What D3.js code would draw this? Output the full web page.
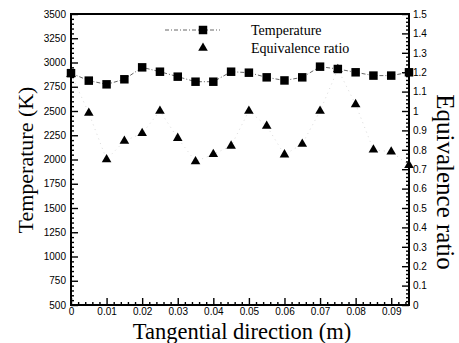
<!DOCTYPE html>
<html>
<head>
<meta charset="utf-8">
<script src="https://cdn.jsdelivr.net/npm/d3@7"></script>
<style>
  body { margin: 0; background: #fff; }
  .tick text { font-family: "Liberation Sans", Arial, sans-serif; font-size: 10px; fill: #000; }
  .title { font-family: "Liberation Serif", "Times New Roman", serif; fill: #000; }
</style>
</head>
<body>
<div class="chart"></div>
<script>
// data
const positions = [0, 0.005, 0.01, 0.015, 0.02, 0.025, 0.03, 0.035, 0.04, 0.045,
  0.05, 0.055, 0.06, 0.065, 0.07, 0.075, 0.08, 0.085, 0.09, 0.095];
const temperature = [2890, 2813, 2775, 2827, 2950, 2905, 2854, 2802, 2802, 2905,
  2895, 2847, 2815, 2847, 2957, 2933, 2899, 2865, 2865, 2899];
const equivRatio = [1.19, 0.99, 0.75, 0.845, 0.885, 1.0, 0.86, 0.74, 0.777, 0.82,
  1.0, 0.923, 0.775, 0.83, 1.0, 1.215, 1.034, 0.8, 0.79, 0.72];
const xTicks = [0, 0.01, 0.02, 0.03, 0.04, 0.05, 0.06, 0.07, 0.08, 0.09];
const tempTicks = [500, 750, 1000, 1250, 1500, 1750, 2000, 2250, 2500, 2750, 3000, 3250, 3500];
const ratioTicks = [0, 0.1, 0.2, 0.3, 0.4, 0.5, 0.6, 0.7, 0.8, 0.9, 1, 1.1, 1.2, 1.3, 1.4, 1.5];
const legendNames = ["Temperature", "Equivalence ratio"];

const totalWidth = 459, totalHeight = 343;
const margin = { top: 14, left: 71, right: 50, bottom: 38 };
const width = totalWidth - margin.left - margin.right,
  height = totalHeight - margin.top - margin.bottom;

const svg = d3.select(".chart").append("svg")
  .attr("width", totalWidth)
  .attr("height", totalHeight);

const g = svg.append("g")
  .attr("transform", `translate(${margin.left},${margin.top})`);

//scales
const xScale = d3.scaleLinear().domain([0, 0.095]).range([0, width]);
const yTemp = d3.scaleLinear().domain([500, 3500]).range([height, 0]);
const yRatio = d3.scaleLinear().domain([0, 1.5]).range([height, 0]);

//minor ticks
const xMinor = d3.range(0, 0.0951, 0.002).filter((v) => Math.abs(v * 100 - Math.round(v * 100)) > 1e-6);
const tMinor = d3.range(500, 3501, 50).filter((v) => v % 250 !== 0);
const rMinor = d3.range(0, 1.501, 0.02).filter((v) => Math.abs(v * 10 - Math.round(v * 10)) > 1e-6);

function styleAxis(sel) {
  sel.select(".domain").remove();
  sel.selectAll(".tick line").attr("stroke", "#000").attr("stroke-width", 1.4);
}

g.append("g").attr("transform", `translate(0,${height})`)
  .call(d3.axisBottom(xScale).tickValues(xMinor).tickSize(-3).tickFormat(""))
  .call(styleAxis);
g.append("g").attr("transform", `translate(0,${height})`)
  .call(d3.axisBottom(xScale).tickValues(xTicks).tickSize(-7).tickPadding(3)
    .tickFormat((d) => (d === 0 ? "0" : d3.format(".2f")(d))))
  .call(styleAxis);

g.append("g")
  .call(d3.axisLeft(yTemp).tickValues(tMinor).tickSize(-3).tickFormat(""))
  .call(styleAxis);
g.append("g")
  .call(d3.axisLeft(yTemp).tickValues(tempTicks).tickSize(-7).tickPadding(5)
    .tickFormat(d3.format("d")))
  .call(styleAxis);

g.append("g").attr("transform", `translate(${width},0)`)
  .call(d3.axisRight(yRatio).tickValues(rMinor).tickSize(-3).tickFormat(""))
  .call(styleAxis);
g.append("g").attr("transform", `translate(${width},0)`)
  .call(d3.axisRight(yRatio).tickValues(ratioTicks).tickSize(-7).tickPadding(4)
    .tickFormat((d) => d3.format("")(+d.toFixed(1))))
  .call(styleAxis);

//frame
g.append("rect")
  .attr("width", width).attr("height", height)
  .attr("fill", "none").attr("stroke", "#000").attr("stroke-width", 2);

//lines
const tempLine = d3.line().x((d, i) => xScale(positions[i])).y((d) => yTemp(d));
const ratioLine = d3.line().x((d, i) => xScale(positions[i])).y((d) => yRatio(d));

g.append("path").datum(equivRatio)
  .attr("d", ratioLine)
  .attr("fill", "none").attr("stroke", "#cfcfcf")
  .attr("stroke-width", 0.8).attr("stroke-dasharray", "1,4");

g.append("path").datum(temperature)
  .attr("d", tempLine)
  .attr("fill", "none").attr("stroke", "#666")
  .attr("stroke-width", 1).attr("stroke-dasharray", "4,2,1,2");

const square = d3.symbol().type(d3.symbolSquare).size(72);
const triangle = d3.symbol().type(d3.symbolTriangle).size(40);

g.selectAll(".tri").data(equivRatio).enter().append("path")
  .attr("class", "tri")
  .attr("d", triangle)
  .attr("transform", (d, i) => `translate(${xScale(positions[i])},${yRatio(d)})`)
  .attr("fill", "#000");

g.selectAll(".sq").data(temperature).enter().append("path")
  .attr("class", "sq")
  .attr("d", square)
  .attr("transform", (d, i) => `translate(${xScale(positions[i])},${yTemp(d)})`)
  .attr("fill", "#000");

//legend
const legend = svg.append("g");
legend.append("line")
  .attr("x1", 165).attr("x2", 220).attr("y1", 30).attr("y2", 30)
  .attr("stroke", "#666").attr("stroke-dasharray", "4,2,1,2");
legend.append("path").attr("d", square).attr("transform", "translate(203,30)");
legend.append("path").attr("d", triangle).attr("transform", "translate(203,48)");
legend.selectAll("text").data(legendNames).enter().append("text")
  .attr("class", "title")
  .attr("x", 251)
  .attr("y", (d, i) => 35 + i * 18)
  .style("font-size", "14px")
  .text((d) => d);

//axis titles
svg.append("text").attr("class", "title")
  .attr("x", 242).attr("y", 339)
  .attr("text-anchor", "middle")
  .style("font-size", "22.5px")
  .text("Tangential direction (m)");

svg.append("text").attr("class", "title")
  .attr("transform", "translate(33,160) rotate(-90)")
  .attr("text-anchor", "middle")
  .style("font-size", "22px")
  .text("Temperature (K)");

svg.append("text").attr("class", "title")
  .attr("transform", "translate(437,182) rotate(90)")
  .attr("text-anchor", "middle")
  .style("font-size", "25px")
  .text("Equivalence ratio");
</script>
</body>
</html>
